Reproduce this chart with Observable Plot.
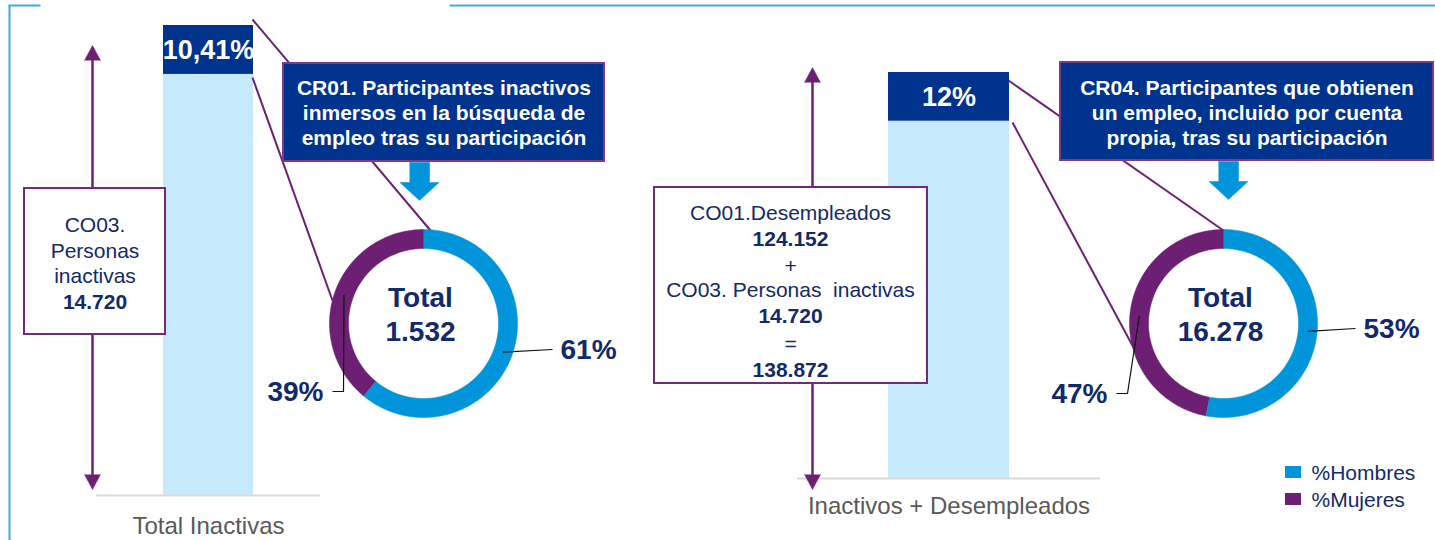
<!DOCTYPE html>
<html>
<head>
<meta charset="utf-8">
<script src="https://cdn.jsdelivr.net/npm/d3@7"></script>
<script src="https://cdn.jsdelivr.net/npm/@observablehq/plot@0.6"></script>
<style>
  html, body { margin: 0; padding: 0; background: #fff; }
  #chart { position: relative; width: 1435px; height: 540px; overflow: hidden; background: #fff; }
  #chart svg text { white-space: pre; }
</style>
</head>
<body>
<div id="chart"></div>
<script>
// ---------------- DATA ----------------
const categories = ["Total Inactivas", "Inactivos + Desempleados"];
const baseTotals = [14720, 138872];          // población de referencia de cada barra
const resultShares = [10.41, 12];            // % de la barra que obtiene el resultado
const resultTotals = [1532, 16278];          // total de participantes con resultado
const sexes = ["%Hombres", "%Mujeres"];
const hombresPct = [61, 53];
const mujeresPct = [39, 47];
const desempleados = 124152;                 // CO01
const inactivas = 14720;                     // CO03
const resultTitles = [
  "CR01. Participantes inactivos\ninmersos en la búsqueda de\nempleo tras su participación",
  "CR04. Participantes que obtienen\nun empleo, incluido por cuenta\npropia, tras su participación"
];

// ---------------- STYLE ----------------
const W = 1435, H = 540;
const C = {
  navyFill: "#00338D", navyText: "#12296B", purple: "#6D1F74", boxPurple: "#74287E",
  blue: "#0094DA", lightBar: "#C6E9FB", frame: "#3FA9E0", grayText: "#595959", axis: "#D9D9D9"
};
const FONT = "'Liberation Sans', Arial, Helvetica, sans-serif";
const locale = d3.formatLocale({decimal: ",", thousands: ".", grouping: [3], currency: ["", " €"]});
const fmtInt = locale.format(",d");
const fmtPct = v => locale.format(",.2~f")(v) + "%";

// ---------------- LAYOUT (pixels) ----------------
const barLayout = [
  {left: 96, width: 224, top: 25, bottom: 495, inset: 67, labelPad: 21},
  {left: 797, width: 303, top: 72, bottom: 478, inset: 91, labelPad: 18}
];
const donutLayout = [
  {cx: 423, cy: 323, rightEnd: [129, 26], leftElbow: [-80, 68], leftEnd: [-91, 68]},
  {cx: 1223, cy: 323, rightEnd: [132, 5], leftElbow: [-96, 70], leftEnd: [-107, 70]}
];
const ring = {outer: 94, inner: 75, leader: 84.5};
const overlay = {
  frame: [
    {x1: 8, y1: 5, x2: 40, y2: 5},
    {x1: 9, y1: 5, x2: 9, y2: 540},
    {x1: 449, y1: 5, x2: 1435, y2: 5}
  ],
  connectors: [
    {x1: 252, y1: 19, x2: 430, y2: 230},
    {x1: 252, y1: 77, x2: 332, y2: 300},
    {x1: 1008, y1: 80, x2: 1223, y2: 230},
    {x1: 1012, y1: 122, x2: 1133, y2: 347}
  ],
  boxes: [
    {x1: 24, y1: 188, x2: 165, y2: 334, cx: 94.5, baselines: [231, 257, 282, 308]},
    {x1: 654, y1: 187, x2: 927, y2: 383, cx: 790, baselines: [219, 245, 272, 296, 322, 350, 376]}
  ],
  callouts: [
    {x1: 283, y1: 63, x2: 604, y2: 161, cx: 443.5, lastBaseline: 144},
    {x1: 1060, y1: 62, x2: 1433, y2: 160, cx: 1246.5, lastBaseline: 144}
  ],
  vArrows: [
    {x: 92, tip: 45, boxTop: 188, boxBottom: 334, bottom: 489},
    {x: 812, tip: 67, boxTop: 187, boxBottom: 383, bottom: 489}
  ],
  blockArrows: [
    {cx: 419, top: 162, neck: 182, tip: 200},
    {cx: 1228, top: 161, neck: 181, tip: 199}
  ],
  legend: {x: 1285, w: 16, h: 12, tops: [466, 493], textX: 1311, baselines: [479, 506]}
};

const baseStyle = {background: "transparent", overflow: "visible", fontFamily: FONT};
const chart = document.getElementById("chart");
function place(svg, left, top) {
  svg.style.position = "absolute";
  svg.style.left = left + "px";
  svg.style.top = top + "px";
  svg.style.maxWidth = "none";
  chart.appendChild(svg);
}

// ---------------- BARS ----------------
function barChart(i) {
  const L = barLayout[i];
  const share = resultShares[i];
  const rest = [{cat: categories[i], y1: 0, y2: 100 - share}];
  const top = [{cat: categories[i], y1: 100 - share, y2: 100, label: fmtPct(share)}];
  return Plot.plot({
    width: L.width, height: H,
    marginLeft: 0, marginRight: 0, marginTop: L.top, marginBottom: H - L.bottom,
    x: {domain: [categories[i]], padding: 0, label: null},
    y: {domain: [0, 100], axis: null},
    style: {...baseStyle, color: C.grayText, fontSize: "24px"},
    marks: [
      Plot.barY(rest, {x: "cat", y1: "y1", y2: "y2", fill: C.lightBar, insetLeft: L.inset, insetRight: L.inset}),
      Plot.barY(top, {x: "cat", y1: "y1", y2: "y2", fill: C.navyFill, insetLeft: L.inset, insetRight: L.inset}),
      Plot.ruleY([0], {stroke: C.axis, strokeWidth: 2}),
      Plot.text(top, {x: "cat", y: d => (d.y1 + d.y2) / 2, text: "label", fill: "white", fontSize: 27, fontWeight: "bold"}),
      Plot.axisX({tickSize: 0, tickPadding: L.labelPad, fontSize: 24, label: null})
    ]
  });
}

// ---------------- DONUTS ----------------
function donutChart(i) {
  const D = donutLayout[i];
  const w = 420, h = 260;
  const values = [hombresPct[i], mujeresPct[i]];
  const total = d3.sum(values);
  const pt = (r, a) => ({x: r * Math.sin(a), y: -r * Math.cos(a)});
  let acc = 0;
  const slices = sexes.map((s, k) => {
    const a0 = acc / total * 2 * Math.PI;
    acc += values[k];
    const a1 = acc / total * 2 * Math.PI;
    return {sex: s, value: values[k], a0, a1, mid: (a0 + a1) / 2};
  });
  const ringPts = slices.map(sl => {
    const n = Math.max(2, Math.ceil((sl.a1 - sl.a0) / (Math.PI / 180)));
    const outer = d3.range(n + 1).map(j => pt(ring.outer, sl.a0 + (sl.a1 - sl.a0) * j / n));
    const inner = d3.range(n + 1).map(j => pt(ring.inner, sl.a1 - (sl.a1 - sl.a0) * j / n));
    return outer.concat(inner).map(p => ({...p, sex: sl.sex}));
  });
  const sR = slices[0], sL = slices[1];
  const startR = pt(ring.leader, sR.mid), startL = pt(ring.leader, sL.mid);
  const leaders = [
    {...startR, sex: sR.sex}, {x: D.rightEnd[0], y: D.rightEnd[1], sex: sR.sex},
    {...startL, sex: sL.sex}, {x: D.leftElbow[0], y: D.leftElbow[1], sex: sL.sex}, {x: D.leftEnd[0], y: D.leftEnd[1], sex: sL.sex}
  ];
  const labR = [{x: D.rightEnd[0] + 8, y: D.rightEnd[1], t: fmtPct(sR.value)}];
  const labL = [{x: D.leftEnd[0] - 9, y: D.leftEnd[1], t: fmtPct(sL.value)}];
  const center = [{x: 0, y: 0, t: "Total\n" + fmtInt(resultTotals[i])}];
  const svg = Plot.plot({
    width: w, height: h, margin: 0,
    x: {domain: [-w / 2, w / 2], range: [0, w], axis: null},
    y: {domain: [-h / 2, h / 2], range: [0, h], axis: null},
    style: baseStyle,
    marks: [
      Plot.line(ringPts[0], {x: "x", y: "y", fill: C.blue, stroke: C.blue, strokeWidth: 0.5}),
      Plot.line(ringPts[1], {x: "x", y: "y", fill: C.purple, stroke: C.purple, strokeWidth: 0.5}),
      Plot.line(leaders, {x: "x", y: "y", z: "sex", stroke: "#111", strokeWidth: 1.2, strokeLinecap: "butt", strokeLinejoin: "miter"}),
      Plot.text(labR, {x: "x", y: "y", text: "t", textAnchor: "start", fontSize: 28, fontWeight: "bold", fill: C.navyText, dy: 1}),
      Plot.text(labL, {x: "x", y: "y", text: "t", textAnchor: "end", fontSize: 28, fontWeight: "bold", fill: C.navyText, dy: 1}),
      Plot.text(center, {x: "x", y: "y", text: "t", fontSize: 28, fontWeight: "bold", fill: C.navyText, lineAnchor: "bottom", lineHeight: 1.2, dx: -3, dy: 17})
    ]
  });
  return {svg, left: D.cx - w / 2, top: D.cy - h / 2};
}

// ---------------- OVERLAY (annotations) ----------------
function overlayChart() {
  const O = overlay;
  const shafts = O.vArrows.flatMap(a => [
    {x1: a.x, y1: a.tip + 14, x2: a.x, y2: a.boxTop},
    {x1: a.x, y1: a.boxBottom, x2: a.x, y2: a.bottom - 14}
  ]);
  const heads = O.vArrows.flatMap((a, k) => [
    {id: "u" + k, x: a.x - 8, y: a.tip + 15}, {id: "u" + k, x: a.x, y: a.tip}, {id: "u" + k, x: a.x + 8, y: a.tip + 15},
    {id: "d" + k, x: a.x - 8, y: a.bottom - 15}, {id: "d" + k, x: a.x, y: a.bottom}, {id: "d" + k, x: a.x + 8, y: a.bottom - 15}
  ]);
  const blocks = O.blockArrows.flatMap((b, k) => [
    [b.cx - 10, b.top], [b.cx + 10, b.top], [b.cx + 10, b.neck], [b.cx + 19.5, b.neck],
    [b.cx, b.tip], [b.cx - 19.5, b.neck], [b.cx - 10, b.neck]
  ].map(([x, y]) => ({id: "b" + k, x, y})));
  const boxLines = [
    [["CO03.", false], ["Personas", false], ["inactivas", false], [fmtInt(inactivas), true]],
    [["CO01.Desempleados", false], [fmtInt(desempleados), true], ["+", false],
     ["CO03. Personas  inactivas", false], [fmtInt(inactivas), true], ["=", false], [fmtInt(baseTotals[1]), true]]
  ].flatMap((lines, k) => lines.map(([t, b], j) => ({t, b, x: O.boxes[k].cx, y: O.boxes[k].baselines[j]})));
  const calloutText = O.callouts.map((c, k) => ({x: c.cx, y: c.lastBaseline, t: resultTitles[k]}));
  const legendRows = sexes.map((s, k) => ({
    s, x1: O.legend.x, x2: O.legend.x + O.legend.w, y1: O.legend.tops[k], y2: O.legend.tops[k] + O.legend.h,
    tx: O.legend.textX, ty: O.legend.baselines[k], fill: k === 0 ? C.blue : C.purple
  }));
  return Plot.plot({
    width: W, height: H, margin: 0,
    x: {domain: [0, W], range: [0, W], axis: null},
    y: {domain: [0, H], range: [0, H], axis: null},
    style: baseStyle,
    marks: [
      Plot.link(O.frame, {x1: "x1", y1: "y1", x2: "x2", y2: "y2", stroke: C.frame, strokeWidth: 2}),
      Plot.link(O.connectors, {x1: "x1", y1: "y1", x2: "x2", y2: "y2", stroke: C.purple, strokeWidth: 2}),
      Plot.link(shafts, {x1: "x1", y1: "y1", x2: "x2", y2: "y2", stroke: C.purple, strokeWidth: 2.5}),
      Plot.line(heads, {x: "x", y: "y", z: "id", fill: C.purple, stroke: C.purple, strokeWidth: 0.5}),
      Plot.rect(O.boxes, {x1: "x1", y1: "y1", x2: "x2", y2: "y2", fill: "white", stroke: C.boxPurple, strokeWidth: 2}),
      Plot.text(boxLines.filter(d => !d.b), {x: "x", y: "y", text: "t", fontSize: 21, fill: C.navyText, lineAnchor: "bottom"}),
      Plot.text(boxLines.filter(d => d.b), {x: "x", y: "y", text: "t", fontSize: 21, fontWeight: "bold", fill: C.navyText, lineAnchor: "bottom"}),
      Plot.rect(O.callouts, {x1: "x1", y1: "y1", x2: "x2", y2: "y2", fill: C.navyFill, stroke: "#7A3A8E", strokeWidth: 2}),
      Plot.text(calloutText, {x: "x", y: "y", text: "t", fontSize: 21, fontWeight: "bold", fill: "white", lineAnchor: "bottom", lineHeight: 1.19}),
      Plot.line(blocks, {x: "x", y: "y", z: "id", fill: C.blue, stroke: C.blue, strokeWidth: 0.5}),
      Plot.rect(legendRows, {x1: "x1", y1: "y1", x2: "x2", y2: "y2", fill: d => d.fill}),
      Plot.text(legendRows, {x: "tx", y: "ty", text: "s", textAnchor: "start", fontSize: 21, fill: C.navyText, lineAnchor: "bottom"})
    ]
  });
}

// ---------------- RENDER ----------------
barLayout.forEach((L, i) => place(barChart(i), L.left, 0));
place(overlayChart(), 0, 0);
donutLayout.forEach((D, i) => { const d = donutChart(i); place(d.svg, d.left, d.top); });
</script>
</body>
</html>
